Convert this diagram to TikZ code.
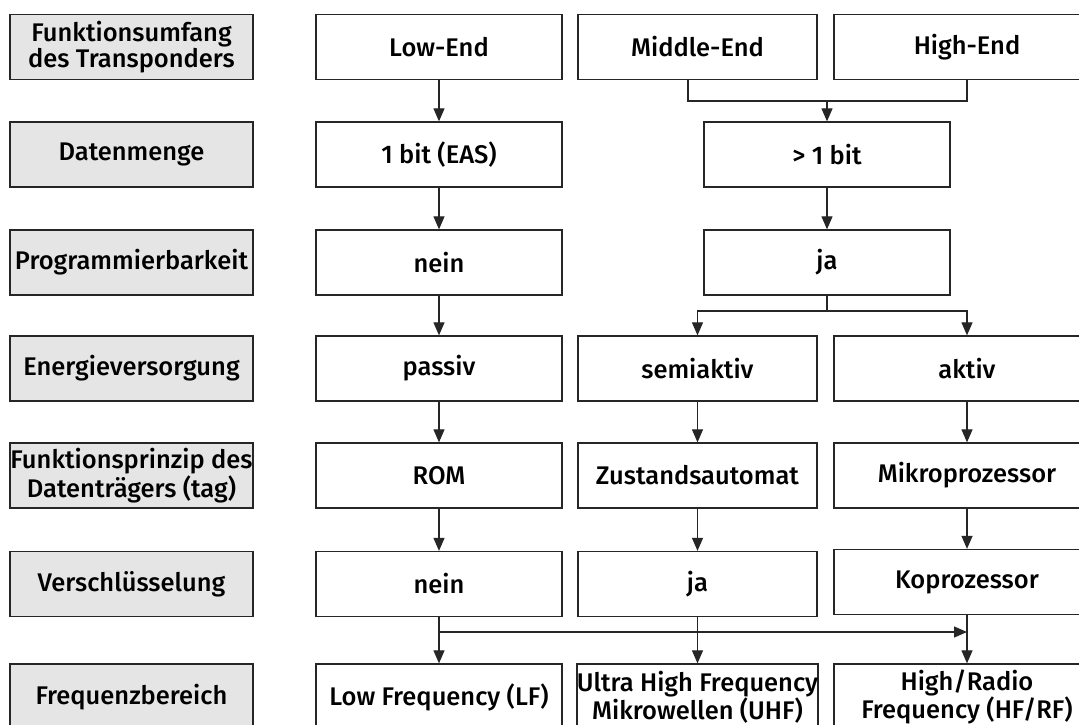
\documentclass[tikz,border=0pt]{standalone}
\usepackage{fontspec}
\setmainfont{Fira Sans}[UprightFont=* Medium]
\usetikzlibrary{arrows.meta,calc}

\tikzset{
  box/.style={draw=black!85, line width=1.3pt, minimum height=65pt, inner sep=0pt,
              align=center, font=\fontsize{25.5}{26}\selectfont},
  lab/.style={box, fill=black!10, minimum width=243pt},
  col/.style={box, fill=white, minimum width=246pt},
  wide/.style={box, fill=white, minimum width=266pt},
  last/.style={minimum height=66pt},
  link/.style={draw=black!85, line width=1.2pt},
  arr/.style={link, -{Triangle[length=13pt,width=11pt]}}
}

\begin{document}
\begin{tikzpicture}[x=1pt,y=-1pt]
\useasboundingbox[fill=white] (0,0) rectangle (1079,725);

% row labels
\node[lab] (l1) at (131.5,47)    {Funktionsumfang\\des Transponders};
\node[lab] (l2) at (131.5,154.5) {Datenmenge};
\node[lab] (l3) at (131.5,262.5) {Programmierbarkeit};
\node[lab] (l4) at (131.5,368.5) {Energieversorgung};
\node[lab] (l5) at (131.5,475.5) {Funktionsprinzip des\\Datenträgers (tag)};
\node[lab] (l6) at (131.5,584)   {Verschlüsselung};
\node[lab, last] (l7) at (131.5,697) {Frequenzbereich};

% row 1
\node[col] (low)  at (439,47)   {Low-End};
\node[col, minimum width=239pt] (mid) at (697.5,47) {Middle-End};
\node[wide] (high) at (967,47)  {High-End};

% row 2
\node[col] (bit1) at (439,154.5) {1 bit (EAS)};
\node[col] (bitn) at (827,154.5) {> 1 bit};

% row 3
\node[col] (prn) at (439,262.5) {nein};
\node[col] (prj) at (827,262.5) {ja};

% row 4
\node[col] (pas)  at (439,368.5) {passiv};
\node[col, minimum width=239pt] (semi) at (697.5,368.5) {semiaktiv};
\node[wide] (akt) at (967,368.5) {aktiv};

% row 5
\node[col] (rom)  at (439,475.5) {ROM};
\node[col, minimum width=239pt] (zust) at (697.5,475.5) {Zustandsautomat};
\node[wide] (mikro) at (967,475.5) {Mikroprozessor};

% row 6
\node[col] (vn)  at (439,584) {nein};
\node[col, minimum width=239pt] (vj) at (697.5,584) {ja};
\node[wide] (kop) at (967,582) {Koprozessor};

% row 7
\node[col, last] (lf) at (439,697) {Low Frequency (LF)};
\node[col, last, minimum width=239pt] (uhf) at (697.5,697) {Ultra High Frequency\\Mikrowellen (UHF)};
\node[wide, last] (hf) at (967,697) {High/Radio\\Frequency (HF/RF)};

% junction points
\coordinate (mdrop) at ($(mid.south)+(-9.5,0)$);
\coordinate (jtop) at (827,101);
\coordinate (jsplit) at (827,311);
\coordinate (jbot) at (439,632);

% connectors
\draw[arr] (low) -- (bit1);
\draw[link] (mdrop) |- (jtop) -| (high.south);
\draw[arr] (jtop) -- (bitn);
\draw[arr] (bit1) -- (prn);
\draw[arr] (bitn) -- (prj);
\draw[link] (prj) -- (jsplit);
\draw[arr] (jsplit) -| (semi.north);
\draw[arr] (jsplit) -| (akt.north);
\draw[arr] (prn) -- (pas);
\draw[arr] (pas) -- (rom);
\draw[arr] (semi) -- (zust);
\draw[arr] (akt) -- (mikro);
\draw[arr] (rom) -- (vn);
\draw[arr] (zust) -- (vj);
\draw[arr] (mikro) -- (kop);
\draw[arr] (vn) -- (lf);
\draw[arr] (vj) -- (uhf);
\draw[arr] (kop) -- (hf);
\draw[arr] (jbot) -- (jbot -| kop.south);
\end{tikzpicture}
\end{document}
